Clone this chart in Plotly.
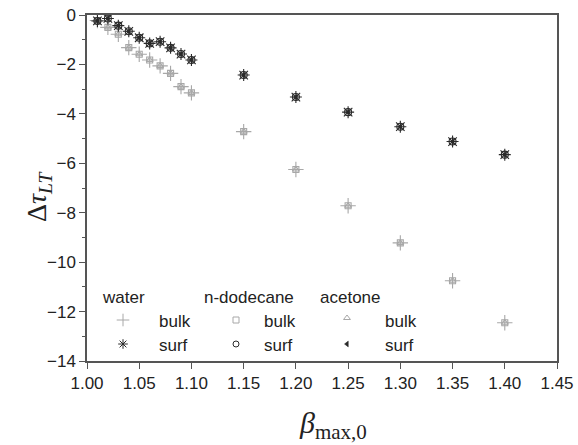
import plotly.graph_objects as go

# ---------------- data ----------------
beta = [1.01, 1.02, 1.03, 1.04, 1.05, 1.06, 1.07, 1.08, 1.09, 1.10,
        1.15, 1.20, 1.25, 1.30, 1.35, 1.40]
bulk_water = [-0.22, -0.50, -0.78, -1.32, -1.59, -1.82, -2.06, -2.36, -2.90, -3.15,
              -4.72, -6.25, -7.72, -9.22, -10.75, -12.45]
bulk_dodecane = list(bulk_water)
bulk_acetone = list(bulk_water)
surf_water = [-0.24, -0.14, -0.43, -0.66, -0.92, -1.15, -1.08, -1.33, -1.58, -1.82,
              -2.43, -3.32, -3.93, -4.52, -5.12, -5.65]
surf_dodecane = list(surf_water)
surf_acetone = list(surf_water)

xticks = [1.00, 1.05, 1.10, 1.15, 1.20, 1.25, 1.30, 1.35, 1.40, 1.45]
yticks = [0, -2, -4, -6, -8, -10, -12, -14]

W, H = 578, 445
GRAY = "#a8a8a8"
DARK = "#2a2a2a"
AX = "#555555"
FONT = "Liberation Sans, Arial, sans-serif"
SERIF = "Liberation Serif, Times New Roman, serif"

fig = go.Figure()

def add(y, symbol, color, size, lw=1.1):
    fig.add_trace(go.Scatter(x=beta, y=y, mode="markers",
                             marker=dict(symbol=symbol, size=size, color=color,
                                         line=dict(width=lw, color=color)),
                             showlegend=False))

add(bulk_water, "cross-thin-open", GRAY, 11)
add(bulk_dodecane, "square-open", GRAY, 6)
add(bulk_acetone, "triangle-up-open", GRAY, 6)
add(surf_dodecane, "circle-open", DARK, 7)
add(surf_water, "asterisk-open", DARK, 10)
add(surf_acetone, "triangle-left", DARK, 5, 0.5)

# ---------- legend keys (separate full-figure axes in pixel space) ----------
leg_items = [
    (123, 320, "cross-thin-open", GRAY, 9, 1.0),
    (123, 344, "asterisk-open", DARK, 8, 1.0),
    (236, 320, "square-open", GRAY, 6, 1.0),
    (236, 344, "circle-open", DARK, 6, 1.0),
    (347, 318, "triangle-up-open", GRAY, 6, 1.0),
    (347, 344, "triangle-left", DARK, 5, 0.5),
]
for (lx, ly, sym, col, sz, lw) in leg_items:
    fig.add_trace(go.Scatter(x=[lx], y=[ly], xaxis="x2", yaxis="y2", mode="markers",
                             marker=dict(symbol=sym, size=sz, color=col,
                                         line=dict(width=lw, color=col)),
                             showlegend=False, hoverinfo="skip", cliponaxis=False))

anns = []
def txt(x, y, s, size=17, font=FONT, xanchor="center", **kw):
    anns.append(dict(x=x / W, y=1 - y / H, xref="paper", yref="paper", text=s,
                     showarrow=False, xanchor=xanchor, yanchor="middle",
                     font=dict(family=font, size=size, color="#222"), **kw))

txt(100, 297, "water", xanchor="left")
txt(202, 297, "n-dodecane", xanchor="left")
txt(318, 297, "acetone", xanchor="left")
for x0 in (157, 262, 383):
    txt(x0, 321, "bulk", xanchor="left")
    txt(x0, 345, "surf", xanchor="left")

# axis titles
txt(38, 196, "Δ<i>τ</i><sub><i>LT</i></sub>", size=28, font=SERIF, textangle=-90)
txt(333, 425, "<i>β</i><sub>max,0</sub>", size=30, font=SERIF)

x0p, x1p = 87 / W, 557 / W
y0p, y1p = 1 - 361 / H, 1 - 15 / H

fig.update_layout(
    width=W, height=H,
    margin=dict(l=0, r=0, t=0, b=0, pad=0, autoexpand=False),
    paper_bgcolor="white", plot_bgcolor="rgba(0,0,0,0)",
    annotations=anns,
    xaxis=dict(domain=[x0p, x1p], range=[1.0, 1.45], tickvals=xticks,
               ticktext=[f"{v:.2f}" for v in xticks],
               ticks="outside", ticklen=6, tickcolor=AX, showline=True, linecolor=AX,
               linewidth=1.5, mirror=True, showgrid=False, zeroline=False,
               tickfont=dict(family=FONT, size=17, color="#222")),
    yaxis=dict(domain=[y0p, y1p], range=[-14, 0], tickvals=yticks,
               ticks="outside", ticklen=6, tickcolor=AX, showline=True, linecolor=AX,
               linewidth=1.5, mirror=True, showgrid=False, zeroline=False,
               minor=dict(dtick=1, ticks="outside", ticklen=3, tickcolor=AX, showgrid=False),
               tickfont=dict(family=FONT, size=17, color="#222")),
    xaxis2=dict(domain=[0, 1], range=[0, W], visible=False, anchor="y2"),
    yaxis2=dict(domain=[0, 1], range=[H, 0], visible=False, anchor="x2"),
)

fig.write_html("out.html")
